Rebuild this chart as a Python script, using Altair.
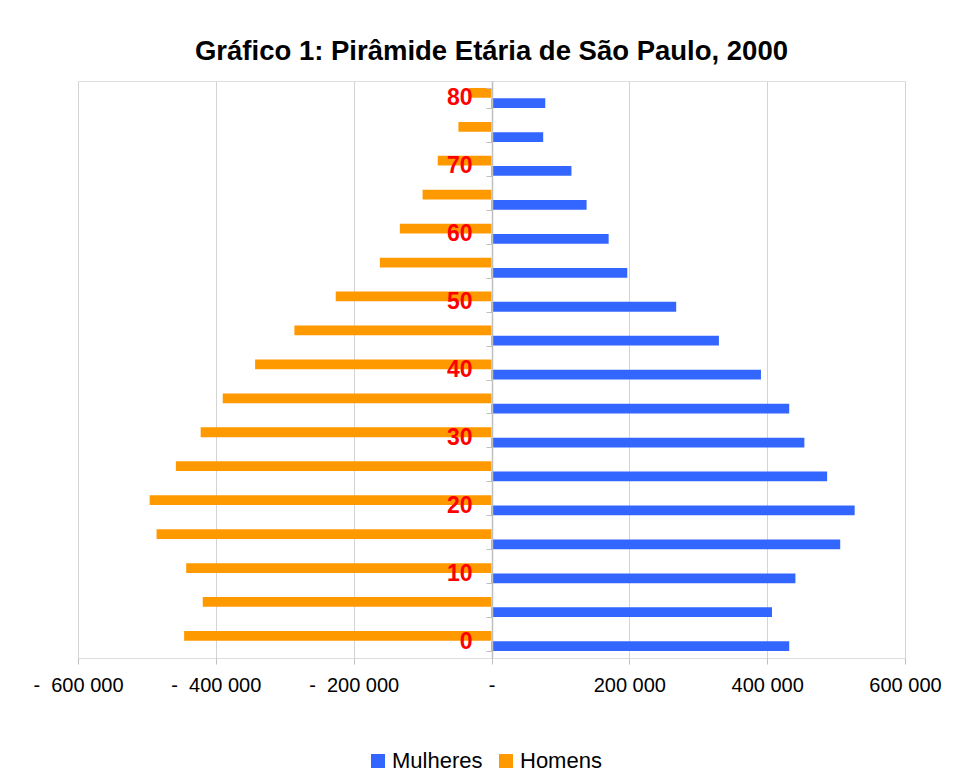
import altair as alt
import pandas as pd

# Age groups (lower bound of 5-year class)
ages = [0, 5, 10, 15, 20, 25, 30, 35, 40, 45, 50, 55, 60, 65, 70, 75, 80]
# Women (positive side)
mulheres = [432000, 407000, 441000, 506000, 527000, 487000, 454000, 432000,
            391000, 330000, 268000, 197000, 170000, 138000, 116000, 75000, 78000]
# Men (plotted on the negative side)
homens = [-446000, -419000, -443000, -486000, -496000, -458000, -422000, -390000,
          -343000, -286000, -226000, -162000, -133000, -100000, -78000, -48000, -33000]

sexes = ["Mulheres", "Homens"]
colors = ["#3366FF", "#FF9900"]
x_ticks = [-600000, -400000, -200000, 0, 200000, 400000, 600000]

rows = []
for a, m, h in zip(ages, mulheres, homens):
    rows.append({"idade": a, "sexo": "Homens", "pop": h})
    rows.append({"idade": a, "sexo": "Mulheres", "pop": m})
df = pd.DataFrame(rows)

NB = "\u00a0"
x_label_expr = (
    "datum.value == 0 ? '-' : (datum.value < 0 ? '-" + NB + NB + "' + "
    "replace(format(-datum.value, ','), ',', ' ') : "
    "replace(format(datum.value, ','), ',', ' '))"
)

FONT = "Liberation Sans"
GRAY = "#bfbfbf"

chart = alt.Chart(df).mark_bar().encode(
    x=alt.X(
        "pop:Q",
        scale=alt.Scale(domain=[-600000, 600000], nice=False, zero=False),
        axis=alt.Axis(
            values=x_ticks, labelExpr=x_label_expr, title=None,
            grid=True, gridColor="#d4d4d4", gridWidth=1,
            domain=False, ticks=True, tickColor=GRAY, tickSize=6,
            labelPadding=11, labelFont=FONT, labelFontSize=20,
            labelColor="#000000", labelFlush=False, labelOverlap=False,
        ),
    ),
    y=alt.Y(
        "idade:O", sort="descending",
        scale=alt.Scale(paddingInner=0.41, paddingOuter=0.205),
        axis=alt.Axis(
            title=None, offset=-414, tickBand="extent",
            labelExpr="datum.value % 10 == 0 ? datum.label : ''",
            labelColor="#FF0000", labelFontWeight="bold", labelFontSize=23,
            labelFont=FONT, labelPadding=14, tickSize=6, tickColor=GRAY,
            domainColor=GRAY, domainWidth=1.5, zindex=1, grid=False,
            labelBaseline="middle",
        ),
    ),
    yOffset=alt.YOffset("sexo:N", sort=["Homens", "Mulheres"],
                        scale=alt.Scale(paddingInner=0.05)),
    color=alt.Color(
        "sexo:N",
        scale=alt.Scale(domain=sexes, range=colors),
        legend=alt.Legend(
            orient="none", legendX=289, legendY=669, direction="horizontal",
            title=None, symbolType="square", symbolSize=196,
            symbolStrokeWidth=0, labelFont=FONT, labelFontSize=22,
            labelColor="#000000", labelOffset=3, columnPadding=12,
        ),
    ),
).properties(
    width=827,
    height=577,
    autosize=alt.AutoSizeParams(type="none"),
    padding={"left": 70, "top": 73, "right": 50, "bottom": 116},
    title=alt.TitleParams(
        "Gráfico 1: Pirâmide Etária de São Paulo, 2000",
        font=FONT, fontSize=27.5, fontWeight="bold", color="#000000",
        anchor="middle", frame="group", offset=20, dy=37,
        baseline="alphabetic",
    ),
).configure_view(
    stroke=GRAY, strokeWidth=1.5
).configure(
    background="#ffffff"
)

chart.save("out.html", embed_options={"renderer": "svg", "actions": False})
